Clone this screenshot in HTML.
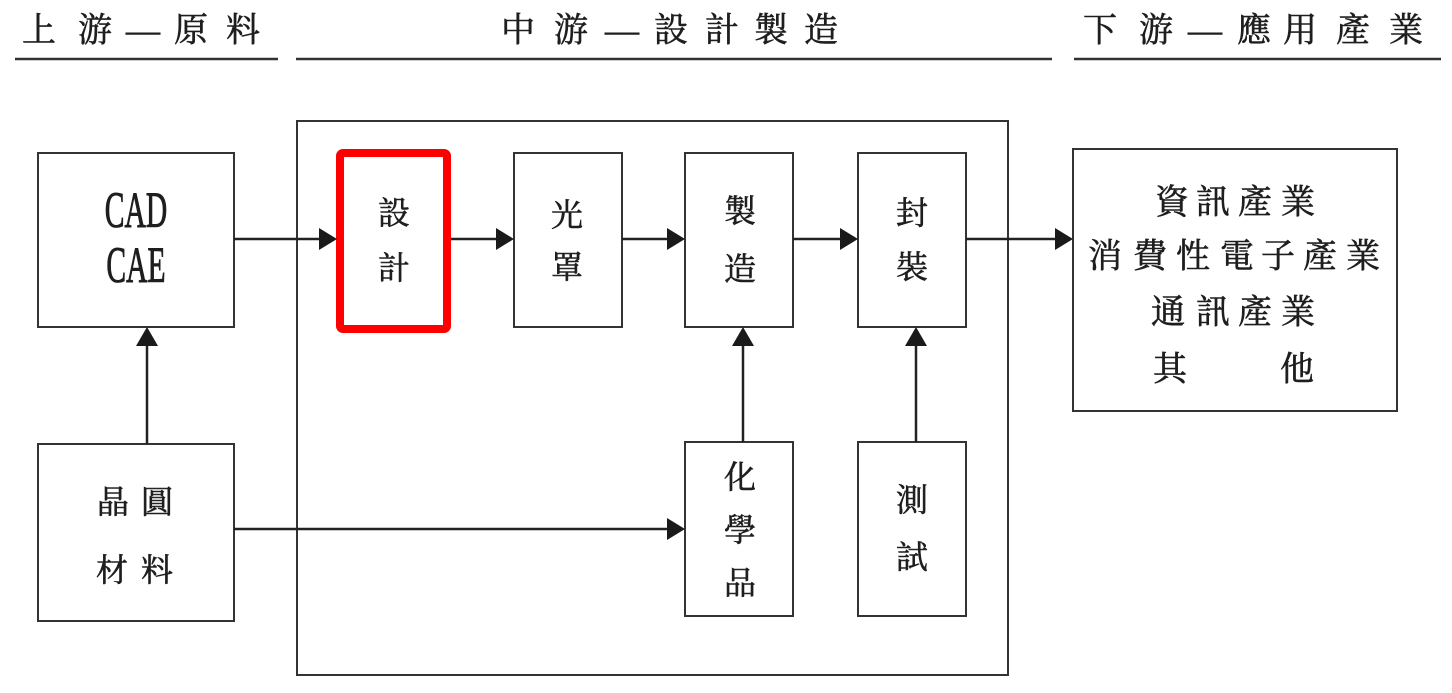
<!DOCTYPE html>
<html><head><meta charset="utf-8">
<style>
html,body{margin:0;padding:0;background:#fff;}
svg{display:block;}
.c{font-family:"Liberation Serif","Noto Serif CJK SC","Noto Serif CJK TC",serif;fill:#1e1e1e;stroke:#1e1e1e;stroke-width:0.6;text-anchor:middle;dominant-baseline:central;}
.h{font-size:34px;}
.b{font-size:32px;}
.r{font-size:34px;}
.l{fill:none;stroke:#333;stroke-width:2;}
.a{fill:#1a1a1a;}
</style></head>
<body>
<svg width="1452" height="693" viewBox="0 0 1452 693" xmlns="http://www.w3.org/2000/svg">
<!-- headers -->
<g class="c h">
<text x="39" y="31">上</text><text x="95" y="31">游</text><text x="143" y="31">—</text><text x="191" y="31">原</text><text x="243" y="31">料</text>
<text x="518" y="31">中</text><text x="571" y="31">游</text><text x="622" y="31">—</text><text x="671" y="31">設</text><text x="722" y="31">計</text><text x="771" y="31">製</text><text x="821" y="31">造</text>
<text x="1100" y="31">下</text><text x="1156" y="31">游</text><text x="1205" y="31">—</text><text x="1254" y="31">應</text><text x="1300" y="31">用</text><text x="1353" y="31">產</text><text x="1406" y="31">業</text>
</g>
<g stroke="#333" stroke-width="2.5">
<line x1="15" y1="59" x2="278" y2="59"/>
<line x1="296" y1="59" x2="1052" y2="59"/>
<line x1="1074" y1="59" x2="1441" y2="59"/>
</g>
<!-- outer box -->
<rect class="l" x="297" y="121" width="711" height="554"/>
<!-- boxes -->
<rect class="l" x="38" y="153" width="196" height="174"/>
<rect class="l" x="514" y="153" width="108" height="174"/>
<rect class="l" x="685" y="153" width="108" height="174"/>
<rect class="l" x="858" y="153" width="108" height="174"/>
<rect class="l" x="1073" y="149" width="324" height="262"/>
<rect class="l" x="38" y="444" width="196" height="177"/>
<rect class="l" x="685" y="442" width="108" height="174"/>
<rect class="l" x="858" y="442" width="108" height="174"/>
<!-- red highlight -->
<rect x="340" y="153" width="107" height="176" rx="3" fill="none" stroke="#ff0000" stroke-width="8"/>
<!-- connectors -->
<g stroke="#222" stroke-width="2.5">
<line x1="234" y1="239" x2="322" y2="239"/>
<line x1="451" y1="239" x2="500" y2="239"/>
<line x1="622" y1="239" x2="671" y2="239"/>
<line x1="793" y1="239" x2="844" y2="239"/>
<line x1="966" y1="239" x2="1059" y2="239"/>
<line x1="147" y1="444" x2="147" y2="341"/>
<line x1="234" y1="529" x2="671" y2="529"/>
<line x1="743" y1="442" x2="743" y2="341"/>
<line x1="916" y1="442" x2="916" y2="341"/>
</g>
<g class="a">
<polygon points="337,239 319,228 319,250"/>
<polygon points="514,239 496,228 496,250"/>
<polygon points="685,239 667,228 667,250"/>
<polygon points="858,239 840,228 840,250"/>
<polygon points="1073,239 1055,228 1055,250"/>
<polygon points="685,529 667,518 667,540"/>
<polygon points="147,327 136,346 158,346"/>
<polygon points="743,327 732,346 754,346"/>
<polygon points="916,327 905,346 927,346"/>
</g>
<!-- CAD / CAE -->
<g font-family="'Liberation Serif',serif" font-size="51" fill="#1e1e1e" stroke="#1e1e1e" stroke-width="1" text-anchor="middle">
<text transform="translate(136,227) scale(0.58,1)">CAD</text>
<text transform="translate(136,282) scale(0.58,1)">CAE</text>
</g>
<!-- box labels -->
<g class="c b">
<text x="394" y="213">設</text><text x="394" y="268">計</text>
<text x="567" y="215">光</text><text x="567" y="267">罩</text>
<text x="740" y="211">製</text><text x="740" y="269">造</text>
<text x="912" y="213">封</text><text x="912" y="267">裝</text>
<text x="113" y="502">晶</text><text x="157" y="502">圓</text>
<text x="112" y="570">材</text><text x="157" y="570">料</text>
<text x="740" y="477">化</text><text x="740" y="530">學</text><text x="740" y="583">品</text>
<text x="912" y="500">測</text><text x="912" y="557">試</text>
</g>
<g class="c r">
<text x="1172" y="203">資</text><text x="1213" y="203">訊</text><text x="1255" y="203">產</text><text x="1298" y="203">業</text>
<text x="1105" y="257">消</text><text x="1150" y="257">費</text><text x="1193" y="257">性</text><text x="1237" y="257">電</text><text x="1278" y="257">子</text><text x="1320" y="257">產</text><text x="1363" y="257">業</text>
<text x="1168" y="313">通</text><text x="1213" y="313">訊</text><text x="1255" y="313">產</text><text x="1298" y="313">業</text>
<text x="1170" y="370">其</text><text x="1297" y="370">他</text>
</g>
</svg>
</body></html>
